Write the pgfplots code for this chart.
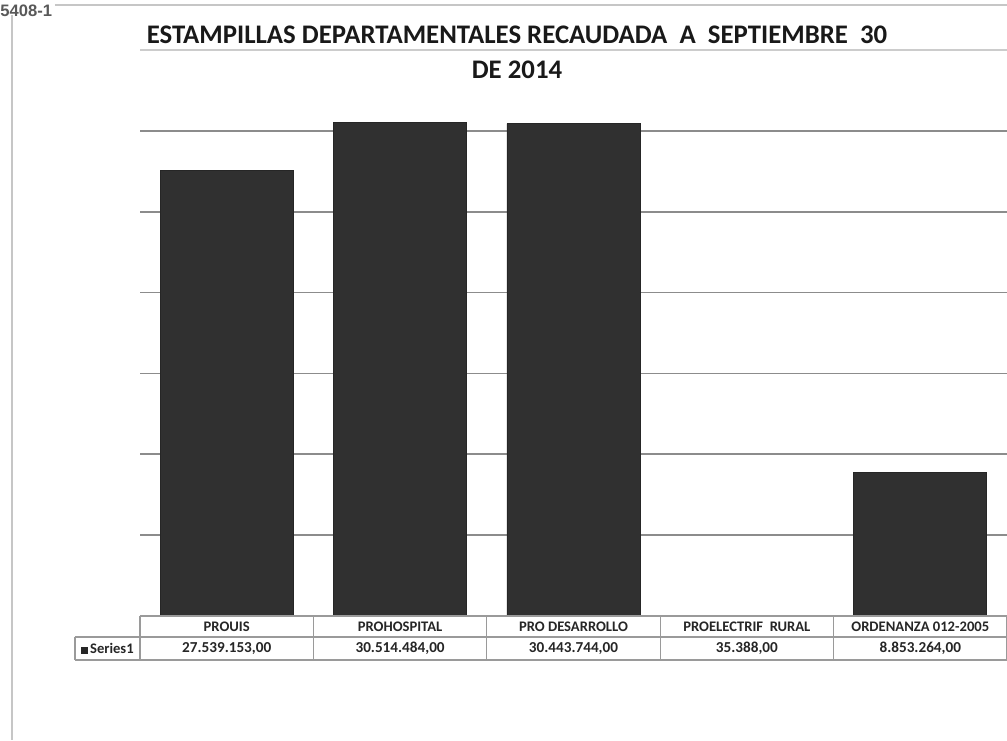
\documentclass[border=0pt]{standalone}
\usepackage{fontspec}
\setmainfont{Carlito}
\newfontfamily\arialfont{Liberation Sans}
\usepackage{pgfplots}
\pgfplotsset{compat=1.18}
\definecolor{barfill}{HTML}{303030}
\definecolor{gridc}{HTML}{8C8C8C}
\definecolor{tablec}{HTML}{9A9A9A}

\begin{document}
\begin{tikzpicture}
\useasboundingbox (-70pt,-62pt) rectangle (433.5pt,308pt);
\fill[white] (-70pt,-62pt) rectangle (433.5pt,308pt);
% page frame
\draw[gray!45, line width=0.6pt] (-64pt,300.5pt) -- (-64pt,-62pt);
\draw[gray!45, line width=0.6pt] (-42.5pt,305.5pt) -- (433.5pt,305.5pt);
\node[anchor=west, font=\arialfont\fontsize{8.3}{9}\selectfont\bfseries, text=black!65, inner sep=0pt] at (-70pt,302.5pt) {5408-1};

\begin{axis}[
  at={(0,0)}, anchor=south west,
  width=433.5pt, height=283pt, scale only axis,
  xmin=-0.5, xmax=4.5, ymin=0, ymax=35000000,
  ytick={0,5000000,10000000,15000000,20000000,25000000,30000000},
  extra y ticks={35000000},
  extra y tick style={grid style={gray!40, line width=0.6pt}},
  yticklabels={}, extra y tick labels={}, scaled y ticks=false,
  xtick={0,1,2,3,4},
  xticklabels={PROUIS,PROHOSPITAL,PRO DESARROLLO,PROELECTRIF~~RURAL,ORDENANZA 012-2005},
  xticklabel style={font=\fontsize{7.3}{8}\selectfont\bfseries, anchor=center, yshift=-5.25pt, text=black!85},
  major tick length=0pt,
  axis line style={draw=none},
  ymajorgrids, grid style={gridc, line width=0.8pt},
  clip=false,
]
\addplot[ybar, bar width=66.5pt, fill=barfill, draw=black!85] coordinates {
  (0,27539153) (1,30514484) (2,30443744) (3,35388) (4,8853264)};
\node[font=\fontsize{7.6}{8}\selectfont\bfseries, text=black!85, yshift=-16.25pt] at (axis cs:0,0) {27.539.153,00};
\node[font=\fontsize{7.6}{8}\selectfont\bfseries, text=black!85, yshift=-16.25pt] at (axis cs:1,0) {30.514.484,00};
\node[font=\fontsize{7.6}{8}\selectfont\bfseries, text=black!85, yshift=-16.25pt] at (axis cs:2,0) {30.443.744,00};
\node[font=\fontsize{7.6}{8}\selectfont\bfseries, text=black!85, yshift=-16.25pt] at (axis cs:3,0) {35.388,00};
\node[font=\fontsize{7.6}{8}\selectfont\bfseries, text=black!85, yshift=-16.25pt] at (axis cs:4,0) {8.853.264,00};
\end{axis}

% data table grid
\draw[tablec, line width=0.6pt] (0,0) -- (433.5pt,0);
\draw[tablec, line width=0.6pt] (-32.5pt,-10.5pt) -- (433.5pt,-10.5pt);
\draw[tablec, line width=0.6pt] (-32.5pt,-22pt) -- (433.5pt,-22pt);
\draw[tablec, line width=0.6pt] (-32.5pt,-10.5pt) -- (-32.5pt,-22pt);
\foreach \x in {0,86.7,173.4,260.1,346.8,433.5}
  \draw[tablec, line width=0.6pt] (\x pt,0) -- (\x pt,-22pt);
\node[font=\fontsize{7.3}{8}\selectfont\bfseries, text=black!85, anchor=center] at (-16.25pt,-16.25pt) {\rule{3.2pt}{3.2pt}\,Series1};

% title
\node[font=\fontsize{13.4}{17.5}\selectfont\bfseries, text=black!90, align=center, anchor=north] at (188.5pt,298.5pt)
  {ESTAMPILLAS DEPARTAMENTALES RECAUDADA~~A~~SEPTIEMBRE~~30\\DE 2014};
\end{tikzpicture}
\end{document}
